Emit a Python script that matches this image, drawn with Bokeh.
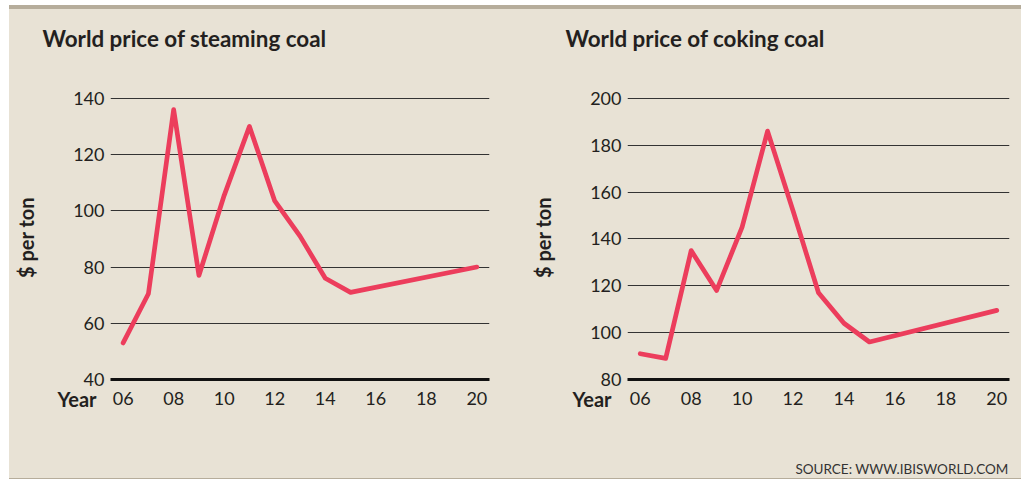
from bokeh.plotting import figure
from bokeh.layouts import row, column
from bokeh.models import Range1d, FixedTicker, Title, Div
from bokeh.embed import file_html
from bokeh.resources import INLINE

# ---- data ----
steam_years = [2006, 2007, 2008, 2009, 2010, 2011, 2012, 2013, 2014, 2015, 2020]
steam_price = [53, 70.5, 136, 77, 105.5, 130, 103.5, 91, 76, 71, 80]

coke_years = [2006, 2007, 2008, 2009, 2010, 2011, 2012, 2013, 2014, 2015, 2020]
coke_price = [91, 89, 135, 118, 145, 186, 152, 117, 104, 96, 109.5]

x_ticks = [2006, 2008, 2010, 2012, 2014, 2016, 2018, 2020]
x_tick_labels = ["06", "08", "10", "12", "14", "16", "18", "20"]
steam_y_ticks = [40, 60, 80, 100, 120, 140]
coke_y_ticks = [80, 100, 120, 140, 160, 180, 200]

titles = ["World price of steaming coal", "World price of coking coal"]
y_label = "$ per ton"
x_label = "Year"
source_text = "SOURCE: WWW.IBISWORLD.COM"

BG = "#e8e2d5"
LINE = "#ec3d5c"
TXT = "#231f20"
FONT = "Lato"


def spacer(gap):
    return Title(text=" ", text_font_size="1px", standoff=gap, text_color=BG)


def make_panel(xs, ys, yticks, title, border_left, frame_w, border_right,
               title_offset, year_offset, source=None):
    y0, y1 = yticks[0], yticks[-1]
    step = (y1 - y0) / 100.0
    p = figure(frame_width=frame_w, frame_height=284,
               min_border_left=border_left, min_border_right=border_right,
               min_border_top=86, min_border_bottom=99,
               x_range=Range1d(2005.5, 2020.5),
               y_range=Range1d(y0, y1 + step),
               output_backend="svg", toolbar_location=None)
    p.background_fill_color = BG
    p.border_fill_color = BG
    p.outline_line_color = None
    p.title.visible = False

    p.line(xs, ys, line_color=LINE, line_width=4.7, line_join="round", line_cap="round")

    # x axis
    xa = p.xaxis[0]
    xa.ticker = FixedTicker(ticks=x_ticks)
    xa.major_label_overrides = {t: l for t, l in zip(x_ticks, x_tick_labels)}
    xa.axis_line_color = "#111111"
    xa.axis_line_width = 3
    xa.major_tick_line_color = None
    xa.minor_tick_line_color = None
    xa.major_tick_out = 0
    xa.major_tick_in = 0
    xa.minor_tick_out = 0
    xa.major_label_standoff = 12
    xa.major_label_text_font = FONT
    xa.major_label_text_font_size = "18px"
    xa.major_label_text_color = TXT

    # y axis
    ya = p.yaxis[0]
    ya.ticker = FixedTicker(ticks=yticks)
    ya.axis_line_color = None
    ya.major_tick_line_color = None
    ya.minor_tick_line_color = None
    ya.major_tick_out = 0
    ya.major_tick_in = 0
    ya.minor_tick_out = 0
    ya.major_label_standoff = 6
    ya.major_label_text_font = FONT
    ya.major_label_text_font_size = "18px"
    ya.major_label_text_color = TXT
    ya.axis_label = y_label
    ya.axis_label_text_font = FONT
    ya.axis_label_text_font_style = "bold"
    ya.axis_label_text_font_size = "20px"
    ya.axis_label_text_color = TXT
    ya.axis_label_standoff = 32

    p.xgrid.grid_line_color = None
    p.ygrid.ticker = FixedTicker(ticks=yticks)
    p.ygrid.grid_line_color = "#333333"
    p.ygrid.grid_line_width = 1

    # title above (spacer nearest the frame, then the title)
    p.add_layout(spacer(41), "above")
    p.add_layout(Title(text=title, align="left", offset=title_offset, standoff=0,
                       vertical_align="bottom",
                       text_font=FONT, text_font_style="bold", text_font_size="22.4px",
                       text_color=TXT), "above")

    year_title = Title(text=x_label, align="left", offset=year_offset,
                       vertical_align="top",
                       text_font=FONT, text_font_style="bold", text_font_size="20px",
                       text_color=TXT)
    if source:
        p.add_layout(spacer(48), "below")
        p.add_layout(Title(text=source, align="right", offset=1, standoff=0,
                           vertical_align="bottom",
                           text_font=FONT, text_font_style="normal", text_font_size="13.5px",
                           text_color="#333333"), "below")
        year_title.standoff = -180
    else:
        year_title.standoff = -41
    p.add_layout(year_title, "below")
    return p


p1 = make_panel(steam_years, steam_price, steam_y_ticks, titles[0], 101, 379, 21, -68, -53)
p2 = make_panel(coke_years, coke_price, coke_y_ticks, titles[1], 117, 382, 12, -62, -55, source_text)

top = Div(text="", width=1012, height=4, margin=0, styles={"background-color": "#b6ad9b"})
bottom = Div(text="", width=1012, height=1, margin=0, styles={"background-color": "#b6ad9b"})
mid = row(p1, p2, spacing=0, styles={"background-color": BG})
layout = column(top, mid, bottom, spacing=0, margin=(5, 0, 0, 9))

open("out.html", "w").write(file_html(layout, INLINE))
